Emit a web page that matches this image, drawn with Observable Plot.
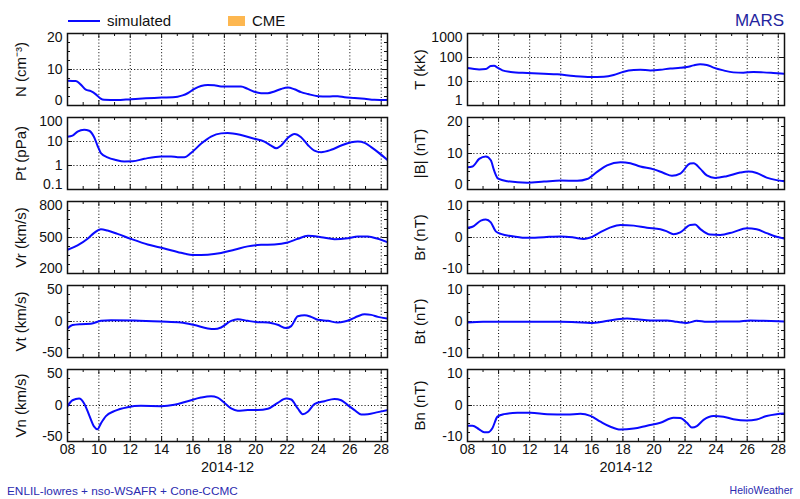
<!DOCTYPE html>
<html><head><meta charset="utf-8">
<script src="https://cdn.jsdelivr.net/npm/d3@7"></script>
<script src="https://cdn.jsdelivr.net/npm/@observablehq/plot@0.6"></script>
<style>
body{margin:0;background:#fff;}
#chart{position:relative;width:800px;height:499px;overflow:hidden;font-family:"Liberation Sans",Arial,Helvetica,sans-serif;color:#111;}
#chart .panel{position:absolute;}
#chart .lbl{position:absolute;white-space:nowrap;}
</style></head><body><div id="chart"></div>
<script>
// ---- data: [day of December 2014, value] ----
const density = [[8.0,6.9],[8.53,6.8],[8.85,5.8],[9.17,4.4],[9.49,4.0],[9.81,3.1],[10.09,2.0],[10.34,1.6],[11.13,1.5],[12.04,1.75],[13.0,2.0],[14.0,2.2],[15.02,2.45],[15.34,2.8],[15.66,3.4],[16.09,4.6],[16.51,5.4],[16.94,5.7],[17.36,5.6],[17.79,5.3],[18.4,5.3],[19.06,5.3],[19.49,4.6],[19.91,3.8],[20.34,3.4],[20.77,3.4],[21.19,3.9],[21.62,4.6],[22.04,5.0],[22.47,4.5],[22.89,3.7],[23.32,3.2],[23.96,2.6],[24.6,2.5],[25.23,2.6],[25.66,2.3],[26.3,2.1],[26.94,1.86],[27.57,1.58],[28.4,1.5]];
const pressure = [[8.0,15.9],[8.32,17.5],[8.64,26],[9.06,31],[9.38,28],[9.7,15],[9.91,6.8],[10.13,3.3],[10.55,2.2],[11.09,1.7],[11.62,1.48],[12.15,1.5],[12.89,1.9],[13.96,2.4],[14.6,2.4],[15.02,2.2],[15.45,2.2],[15.87,3.3],[16.51,8],[17.15,16],[17.79,21.8],[18.21,22.5],[19.06,18.6],[19.91,13],[20.55,9.9],[20.98,6.8],[21.3,5.2],[21.62,6.8],[22.04,14],[22.47,20.5],[22.89,15],[23.32,7.2],[23.74,4.2],[24.17,3.6],[24.81,4.5],[25.45,6.8],[26.09,9.3],[26.51,9.9],[26.94,8.8],[27.36,5.8],[27.79,3.6],[28.4,1.7]];
const vr = [[8.0,398],[8.64,434],[9.28,489],[9.7,539],[10.13,569],[10.55,558],[11.19,530],[12.04,489],[13.11,442],[14.17,409],[15.23,373],[16.09,354],[16.94,357],[17.79,371],[18.64,398],[19.49,426],[20.34,439],[21.19,442],[22.04,459],[22.68,489],[23.32,514],[24.17,503],[25.02,486],[25.87,494],[26.51,508],[27.15,508],[27.79,489],[28.4,461]];
const vt = [[8.0,-9.6],[8.32,-5],[8.85,-3.7],[9.49,-3.2],[10.13,0.9],[10.77,1.8],[12.26,1.4],[13.96,0],[15.23,-1.4],[16.09,-5],[16.94,-9.6],[17.36,-10.5],[17.79,-8.3],[18.43,0.9],[18.85,3.2],[19.49,0.9],[20.13,-0.9],[20.77,-1.4],[21.4,-4.6],[21.94,-9.2],[22.26,-6.4],[22.68,7.3],[23.11,8.7],[23.53,6.4],[23.96,2.3],[24.6,0.9],[25.23,-1.4],[25.66,0],[26.09,3.2],[26.51,7.3],[26.94,10],[27.36,9.2],[27.79,6.4],[28.4,4.1]];
const vn = [[8.0,-0.9],[8.32,7.3],[8.74,9.6],[9.06,2.8],[9.38,-13.3],[9.7,-29.4],[9.91,-33],[10.13,-24.8],[10.45,-14.7],[10.98,-7.8],[11.83,-2.3],[12.68,-0.5],[13.96,-0.9],[14.81,0.9],[15.66,6],[16.51,11],[17.15,12.8],[17.57,11],[18.0,3.7],[18.43,-4.1],[18.85,-7.3],[19.49,-6.4],[20.13,-6.4],[20.77,-4.6],[21.4,3.7],[21.94,9.6],[22.26,8.3],[22.68,-4.1],[23.0,-12],[23.32,-8.7],[23.74,1.8],[24.38,6],[25.02,9.2],[25.45,7.3],[25.87,0.5],[26.3,-6.4],[26.72,-12.4],[27.15,-12],[27.79,-9.2],[28.4,-6.4]];
const temperature = [[8.0,36.5],[8.75,32],[9.18,33],[9.5,44],[9.71,45],[9.93,38],[10.25,29],[10.78,25],[11.85,22.6],[12.92,21],[13.78,19.9],[14.84,16.9],[15.91,15.4],[16.77,15.8],[17.41,18.6],[18.05,25.7],[18.7,30],[19.12,30.7],[19.76,29],[20.4,30.7],[21.05,35],[21.69,37],[22.12,40],[22.55,47],[22.97,52],[23.4,49],[23.83,38],[24.47,29],[25.11,24],[25.75,23.3],[26.4,25],[27.04,24],[27.68,22.6],[28.4,21]];
const bmag = [[8.0,6.2],[8.32,6.4],[8.75,8.5],[9.18,9.2],[9.5,8.1],[9.71,5.3],[9.97,3.0],[10.57,2.3],[11.85,1.9],[12.92,2.2],[13.99,2.5],[15.06,2.4],[15.7,2.9],[16.34,4.9],[16.98,6.7],[17.84,7.6],[18.48,7.3],[19.12,6.4],[19.98,5.6],[20.62,4.6],[21.16,3.8],[21.69,4.4],[22.33,7.2],[22.55,7.3],[22.97,5.8],[23.4,3.9],[23.94,3.2],[24.68,3.7],[25.54,4.7],[26.07,5.0],[26.61,4.6],[27.25,3.3],[27.89,2.6],[28.4,2.3]];
const br = [[8.0,2.7],[8.32,3.0],[8.86,4.7],[9.18,5.0],[9.5,4.2],[9.82,1.7],[10.14,1.0],[10.99,0.3],[11.85,-0.1],[12.92,0.1],[13.99,0.3],[14.84,0],[15.49,-0.4],[15.91,0],[16.56,1.5],[17.2,2.8],[17.84,3.5],[18.7,3.3],[19.55,2.7],[20.41,2.3],[20.83,1.7],[21.26,0.9],[21.69,1.4],[22.33,3.5],[22.65,3.6],[22.97,2.4],[23.61,0.8],[24.26,0.7],[25.11,1.5],[25.97,2.6],[26.61,2.3],[27.25,1.2],[27.89,0.2],[28.4,-0.3]];
const bt = [[8.0,-0.3],[9.0,-0.1],[12.0,-0.1],[14.0,-0.1],[15.0,-0.2],[15.91,-0.4],[16.77,0],[17.63,0.6],[18.27,0.8],[18.91,0.6],[19.76,0.3],[20.83,0.3],[21.48,-0.1],[22.12,-0.4],[22.76,0.2],[23.4,-0.1],[24.26,0],[25.32,0],[26.18,0.3],[27.04,0.2],[28.4,0]];
const bn = [[8.0,-5.6],[8.32,-5.6],[8.75,-6.6],[9.07,-7.4],[9.33,-7.4],[9.6,-6.3],[9.93,-3.1],[10.35,-2.4],[11.21,-2.0],[12.06,-2.0],[13.13,-2.4],[14.42,-2.5],[15.27,-2.3],[15.91,-2.9],[16.56,-4.5],[17.2,-5.9],[17.84,-6.7],[18.7,-6.4],[19.55,-5.6],[20.41,-4.8],[21.26,-3.4],[21.69,-3.5],[22.12,-4.8],[22.44,-6.1],[22.76,-5.7],[23.19,-4.0],[23.83,-2.9],[24.47,-3.1],[25.11,-3.8],[25.97,-4.2],[26.61,-3.9],[27.25,-2.9],[27.89,-2.4],[28.4,-2.2]];

// ---- tick labels ----
const ticksN = [0,10,20], minorN = [2.5,5,7.5,12.5,15,17.5];
const ticksPt = [0.1,1,10,100];
const ticksVr = [200,500,800], minorVr = [275,350,425,575,650,725];
const ticksV = [-50,0,50], minorV = [-37.5,-25,-12.5,12.5,25,37.5];
const ticksT = [1,10,100,1000];
const ticksB = [0,10,20], minorB = [2.5,5,7.5,12.5,15,17.5];
const ticksBc = [-10,0,10], minorBc = [-7.5,-5,-2.5,2.5,5,7.5];
const majorDays = [8,10,12,14,16,18,20,22,24,26,28];
const minorDays = [9,11,13,15,17,19,21,23,25,27];
const xStart = 8, xEnd = 28.4;
const monthLabel = "2014-12";

const labels = ["N (cm⁻³)","Pt (pPa)","Vr (km/s)","Vt (km/s)","Vn (km/s)","T (kK)","|B| (nT)","Br (nT)","Bt (nT)","Bn (nT)"];

const toDate = d => new Date(Date.UTC(2014, 10, 30) + d * 864e5);

const panels = [
  {col:0,row:0,label:labels[0],data:density,type:"linear",ticks:ticksN,minor:minorN},
  {col:0,row:1,label:labels[1],data:pressure,type:"log",ticks:ticksPt,minor:[]},
  {col:0,row:2,label:labels[2],data:vr,type:"linear",ticks:ticksVr,minor:minorVr},
  {col:0,row:3,label:labels[3],data:vt,type:"linear",ticks:ticksV,minor:minorV},
  {col:0,row:4,label:labels[4],data:vn,type:"linear",ticks:ticksV,minor:minorV},
  {col:1,row:0,label:labels[5],data:temperature,type:"log",ticks:ticksT,minor:[]},
  {col:1,row:1,label:labels[6],data:bmag,type:"linear",ticks:ticksB,minor:minorB},
  {col:1,row:2,label:labels[7],data:br,type:"linear",ticks:ticksBc,minor:minorBc},
  {col:1,row:3,label:labels[8],data:bt,type:"linear",ticks:ticksBc,minor:minorBc},
  {col:1,row:4,label:labels[9],data:bn,type:"linear",ticks:ticksBc,minor:minorBc}
];

const chart = document.getElementById("chart");
const FONT = '"Liberation Sans", Arial, Helvetica, sans-serif';
const LINE = "#0a0aff";
const AX = "#111";
const DOT = {stroke:"#000", strokeWidth:1, strokeDasharray:"1,2.2"};
const FH = 72;

function makePanel(p) {
  const FW = p.col === 0 ? 320 : 317;
  const ML = 67, MR = p.col === 0 ? 13 : 16;
  const bottom = p.row === 4;
  const MT = 6, MB = bottom ? 44 : 6;
  const rows = p.data.map(([d, v]) => ({date: toDate(d), value: v}));
  const t = p.ticks;
  const inner = t.slice(1, -1);
  const majDates = majorDays.map(toDate);
  const minDates = minorDays.map(toDate);
  const gridDates = majDates.slice(1);
  const tickTxt = {frameAnchor:"left", textAnchor:"end", dx:-5, fontSize:14, fill:AX, text: d => String(d)};
  const marks = [
    Plot.ruleX(gridDates, {x: d => d, ...DOT}),
    Plot.ruleY(inner, {y: d => d, ...DOT}),
    // inward y ticks
    Plot.tickY(t, {y: d => d, insetRight: FW - 5, stroke: AX}),
    Plot.tickY(t, {y: d => d, insetLeft: FW - 5, stroke: AX}),
    Plot.tickY(p.minor, {y: d => d, insetRight: FW - 3, stroke: AX}),
    Plot.tickY(p.minor, {y: d => d, insetLeft: FW - 3, stroke: AX}),
    // inward x ticks
    Plot.tickX(majDates, {x: d => d, insetBottom: FH - 5, stroke: AX}),
    Plot.tickX(majDates, {x: d => d, insetTop: FH - 5, stroke: AX}),
    Plot.tickX(minDates, {x: d => d, insetBottom: FH - 3, stroke: AX}),
    Plot.tickX(minDates, {x: d => d, insetTop: FH - 3, stroke: AX}),
    Plot.line(rows, {x: "date", y: "value", stroke: LINE, strokeWidth: 2, curve: "monotone-x", clip: true}),
    Plot.frame({stroke: AX, strokeWidth: 1.5}),
    Plot.text(inner, {y: d => d, ...tickTxt}),
    Plot.text([t[t.length - 1]], {y: d => d, ...tickTxt, dy: 4}),
    Plot.text([t[0]], {y: d => d, ...tickTxt, dy: -5}),
    Plot.text([p.label], {text: d => d, frameAnchor: "left", textAnchor: "middle", lineAnchor: "middle", rotate: -90, dx: p.col === 0 ? -46 : -47, fontSize: 15, fill: AX})
  ];
  if (bottom) {
    const fmt = d3.utcFormat("%d");
    marks.push(Plot.text(majDates, {x: d => d, text: d => fmt(d), frameAnchor: "bottom", dy: 12, fontSize: 14, fill: AX}));
    marks.push(Plot.text([monthLabel], {text: d => d, frameAnchor: "bottom", dy: 30, fontSize: 14.5, fill: AX}));
  }
  const svg = Plot.plot({
    width: ML + FW + MR,
    height: MT + FH + MB,
    marginLeft: ML, marginRight: MR, marginTop: MT, marginBottom: MB,
    style: {fontFamily: FONT, fontSize: "14px", background: "transparent", overflow: "visible"},
    x: {type: "utc", domain: [toDate(xStart), toDate(xEnd)], axis: null},
    y: {type: p.type, domain: [t[0], t[t.length - 1]], axis: null},
    marks
  });
  const div = document.createElement("div");
  div.className = "panel";
  div.style.left = (p.col * 400) + "px";
  div.style.top = (33 + 84 * p.row - MT) + "px";
  div.appendChild(svg);
  chart.appendChild(div);
}
panels.forEach(makePanel);

// ---- legend and annotations ----
function addLabel(text, css) {
  const el = document.createElement("div");
  el.className = "lbl";
  el.textContent = text;
  Object.assign(el.style, css);
  chart.appendChild(el);
  return el;
}
const legendLine = document.createElement("div");
Object.assign(legendLine.style, {position:"absolute", left:"68px", top:"19.5px", width:"32px", height:"2px", background:LINE});
chart.appendChild(legendLine);
addLabel("simulated", {left:"107px", top:"11.5px", fontSize:"15px", lineHeight:"18px"});
const sw = document.createElement("div");
Object.assign(sw.style, {position:"absolute", left:"228px", top:"16px", width:"17px", height:"10px", background:"#fdb750"});
chart.appendChild(sw);
addLabel("CME", {left:"252px", top:"11.5px", fontSize:"15px", lineHeight:"18px"});
addLabel("MARS", {right:"16px", top:"10.5px", fontSize:"17px", lineHeight:"20px", color:"#24249e"});
addLabel("ENLIL-lowres + nso-WSAFR + Cone-CCMC", {left:"7px", top:"483.5px", fontSize:"11.8px", lineHeight:"14px", color:"#2b2bb0"});
addLabel("HelioWeather", {right:"7px", top:"484px", fontSize:"10.5px", lineHeight:"13px", color:"#2b2bb0"});
</script>
</body></html>
